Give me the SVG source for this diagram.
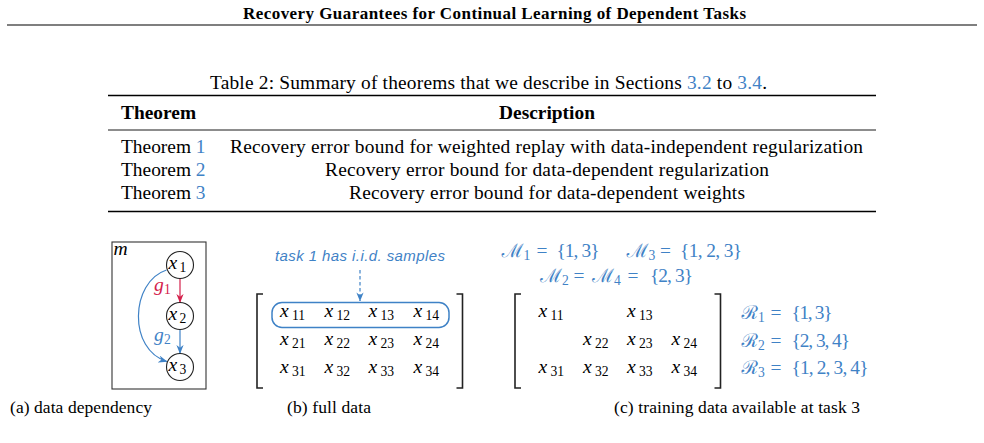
<svg xmlns="http://www.w3.org/2000/svg" width="984" height="443" viewBox="0 0 984 443">
<style>
text{font-family:"Liberation Serif","Times New Roman",serif;fill:#000}
.tb{font-size:19.4px}
.b{font-weight:bold}
.cap{font-size:17.5px}
.m{font-size:19.6px;font-style:italic}
.s{font-size:13.6px;font-style:normal}
.blue{fill:#3f82c6}
.red{fill:#d4214b}
.mt{font-size:19.4px}
.cal{font-family:"DejaVu Serif","Noto Sans","Liberation Serif",serif;font-style:normal;font-size:19px}
.rule{stroke:#000}
.br{fill:none;stroke:#222;stroke-width:1.6}
.node{fill:#fff;stroke:#222;stroke-width:1.1}
</style>
<defs>
<marker id="ab" viewBox="0 0 10 8" refX="9.5" refY="4" markerWidth="9" markerHeight="7.5" markerUnits="userSpaceOnUse" orient="auto"><path d="M0,0 L10,4 L0,8 L3,4 z" fill="#3f82c6"/></marker>
<marker id="ar" viewBox="0 0 10 8" refX="9.5" refY="4" markerWidth="9" markerHeight="7.5" markerUnits="userSpaceOnUse" orient="auto"><path d="M0,0 L10,4 L0,8 L3,4 z" fill="#d4214b"/></marker>
</defs>
<rect width="984" height="443" fill="#fff"/>

<!-- page header -->
<text x="494.5" y="18.5" text-anchor="middle" class="b" font-size="17" textLength="503">Recovery Guarantees for Continual Learning of Dependent Tasks</text>
<line x1="7" y1="25" x2="977" y2="25" class="rule" stroke-width="1.2"/>

<!-- table -->
<g id="table">
<text x="210" y="89" class="tb" textLength="557">Table 2: Summary of theorems that we describe in Sections <tspan class="blue">3.2</tspan> to <tspan class="blue">3.4</tspan>.</text>
<line x1="108" y1="95.5" x2="876" y2="95.5" class="rule" stroke-width="1.4"/>
<text x="121" y="119" class="tb b">Theorem</text>
<text x="547" y="119" class="tb b" text-anchor="middle">Description</text>
<line x1="108" y1="130" x2="876" y2="130" class="rule" stroke-width="0.9"/>
<text x="121" y="152.5" class="tb">Theorem <tspan class="blue">1</tspan></text>
<text x="121" y="175.5" class="tb">Theorem <tspan class="blue">2</tspan></text>
<text x="121" y="198.5" class="tb">Theorem <tspan class="blue">3</tspan></text>
<text x="546.5" y="152.5" class="tb" text-anchor="middle" textLength="633">Recovery error bound for weighted replay with data-independent regularization</text>
<text x="547" y="175.5" class="tb" text-anchor="middle" textLength="444">Recovery error bound for data-dependent regularization</text>
<text x="547" y="198.5" class="tb" text-anchor="middle" textLength="396">Recovery error bound for data-dependent weights</text>
<line x1="108" y1="211.5" x2="876" y2="211.5" class="rule" stroke-width="1.4"/>
</g>

<!-- (a) data dependency -->
<g id="plate">
<rect x="112" y="242" width="94" height="147" fill="none" stroke="#333" stroke-width="1.1"/>
<text x="113.5" y="255" class="m">m</text>
</g>
<g id="connectors">
<line x1="180" y1="278.5" x2="180" y2="302.5" stroke="#d4214b" stroke-width="1.2" marker-end="url(#ar)"/>
<line x1="180" y1="329.5" x2="180" y2="353.5" stroke="#3f82c6" stroke-width="1.2" marker-end="url(#ab)"/>
<path d="M166.5,270 C130,282 128,350 167,361.5" fill="none" stroke="#3f82c6" stroke-width="1.2" marker-end="url(#ab)"/>
<text x="154" y="290.5" class="m red">g<tspan x="164" dy="3" class="s">1</tspan></text>
<text x="154" y="341" class="m blue">g<tspan x="164" dy="3" class="s">2</tspan></text>
<line x1="360" y1="270" x2="360" y2="301" stroke="#3f82c6" stroke-width="1.2" stroke-dasharray="3.5,2.5" marker-end="url(#ab)"/>
</g>
<g id="x1">
<circle cx="180" cy="265" r="13.5" class="node"/>
<text x="168.5" y="268.5" class="m">x<tspan x="179.5" dy="3" class="s">1</tspan></text>
</g>
<g id="x2">
<circle cx="180" cy="316" r="13.5" class="node"/>
<text x="168.5" y="319.5" class="m">x<tspan x="179.5" dy="3" class="s">2</tspan></text>
</g>
<g id="x3">
<circle cx="180" cy="367" r="13.5" class="node"/>
<text x="168.5" y="370.5" class="m">x<tspan x="179.5" dy="3" class="s">3</tspan></text>
</g>
<text x="10" y="412.5" class="cap" textLength="142">(a) data dependency</text>

<!-- (b) full data -->
<g id="full-data">
<text x="360" y="261" text-anchor="middle" font-style="italic" font-size="15" class="blue" textLength="170" style="font-family:'Liberation Sans',Arial,sans-serif">task 1 has i.i.d. samples</text>
<path d="M263,294 H257 V388 H263 M456.5,294 H462.5 V388 H456.5" class="br"/>
<rect x="272" y="302.5" width="177" height="25" rx="10" fill="none" stroke="#3f82c6" stroke-width="1.5"/>
<text x="280" y="317" class="m">x<tspan x="292" dy="3" class="s">11</tspan></text>
<text x="324.5" y="317" class="m">x<tspan x="336.5" dy="3" class="s">12</tspan></text>
<text x="368.5" y="317" class="m">x<tspan x="380.5" dy="3" class="s">13</tspan></text>
<text x="413.5" y="317" class="m">x<tspan x="425.5" dy="3" class="s">14</tspan></text>
<text x="280" y="345" class="m">x<tspan x="292" dy="3" class="s">21</tspan></text>
<text x="324.5" y="345" class="m">x<tspan x="336.5" dy="3" class="s">22</tspan></text>
<text x="368.5" y="345" class="m">x<tspan x="380.5" dy="3" class="s">23</tspan></text>
<text x="413.5" y="345" class="m">x<tspan x="425.5" dy="3" class="s">24</tspan></text>
<text x="280" y="372.5" class="m">x<tspan x="292" dy="3" class="s">31</tspan></text>
<text x="324.5" y="372.5" class="m">x<tspan x="336.5" dy="3" class="s">32</tspan></text>
<text x="368.5" y="372.5" class="m">x<tspan x="380.5" dy="3" class="s">33</tspan></text>
<text x="413.5" y="372.5" class="m">x<tspan x="425.5" dy="3" class="s">34</tspan></text>
</g>
<text x="287" y="412.5" class="cap" textLength="84">(b) full data</text>

<!-- (c) training data -->
<g id="training-data">
<text x="501.5" y="256.5" class="mt blue"><tspan class="cal">ℳ</tspan><tspan dy="3" class="s">1</tspan><tspan x="536.5" dy="-3">=</tspan><tspan x="556.5" textLength="43">{1, 3}</tspan></text>
<text x="626.5" y="256.5" class="mt blue"><tspan class="cal">ℳ</tspan><tspan dy="3" class="s">3</tspan><tspan x="660" dy="-3">=</tspan><tspan x="680" textLength="62">{1, 2, 3}</tspan></text>
<text x="540" y="281.5" class="mt blue"><tspan class="cal">ℳ</tspan><tspan dy="3" class="s">2</tspan><tspan x="573.5" dy="-3">=</tspan><tspan x="592" class="cal">ℳ</tspan><tspan dy="3" class="s">4</tspan><tspan x="627.5" dy="-3">=</tspan><tspan x="650" textLength="43">{2, 3}</tspan></text>
<path d="M521,294 H515 V388 H521 M714.5,294 H720.5 V388 H714.5" class="br"/>
<text x="538.5" y="317" class="m">x<tspan x="550.5" dy="3" class="s">11</tspan></text>
<text x="627" y="317" class="m">x<tspan x="639" dy="3" class="s">13</tspan></text>
<text x="583" y="345" class="m">x<tspan x="595" dy="3" class="s">22</tspan></text>
<text x="627" y="345" class="m">x<tspan x="639" dy="3" class="s">23</tspan></text>
<text x="671.5" y="345" class="m">x<tspan x="683.5" dy="3" class="s">24</tspan></text>
<text x="538.5" y="372.5" class="m">x<tspan x="550.5" dy="3" class="s">31</tspan></text>
<text x="583" y="372.5" class="m">x<tspan x="595" dy="3" class="s">32</tspan></text>
<text x="627" y="372.5" class="m">x<tspan x="639" dy="3" class="s">33</tspan></text>
<text x="671.5" y="372.5" class="m">x<tspan x="683.5" dy="3" class="s">34</tspan></text>
<text x="741.5" y="319" class="mt blue"><tspan class="cal">ℛ</tspan><tspan dy="3" class="s">1</tspan><tspan x="770.5" dy="-3">=</tspan><tspan x="791.5" textLength="41">{1, 3}</tspan></text>
<text x="741.5" y="346.5" class="mt blue"><tspan class="cal">ℛ</tspan><tspan dy="3" class="s">2</tspan><tspan x="770.5" dy="-3">=</tspan><tspan x="791.5" textLength="58.5">{2, 3, 4}</tspan></text>
<text x="741.5" y="373.5" class="mt blue"><tspan class="cal">ℛ</tspan><tspan dy="3" class="s">3</tspan><tspan x="770.5" dy="-3">=</tspan><tspan x="791.5" textLength="77">{1, 2, 3, 4}</tspan></text>
</g>
<text x="614" y="413" class="cap" textLength="246">(c) training data available at task 3</text>
</svg>
